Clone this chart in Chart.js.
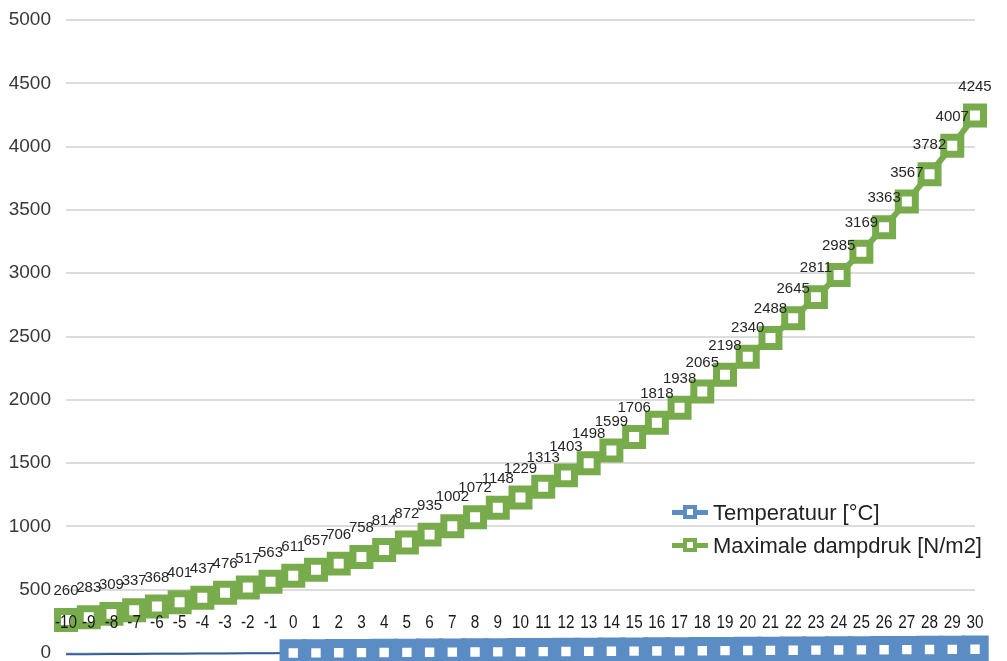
<!DOCTYPE html>
<html>
<head>
<meta charset="utf-8">
<script src="https://cdn.jsdelivr.net/npm/chart.js@4/dist/chart.umd.min.js"></script>
<style>
  html, body { margin: 0; padding: 0; background: #ffffff; }
  #wrap { position: relative; width: 1007px; height: 661px; overflow: hidden; }
  #c { display: block; }
  #legend { position: absolute; left: 672px; top: 496px; font-family: "Liberation Sans", Arial, sans-serif; font-size: 22px; color: #222; }
  .row { height: 33px; display: flex; align-items: center; white-space: nowrap; }
  .sym { position: relative; width: 36px; height: 33px; margin-right: 5px; }
  .sym .ln { position: absolute; left: 0; right: 0; top: 14px; height: 5px; }
  .sym .sq { position: absolute; left: 11px; top: 9px; width: 6px; height: 6px; border: 4px solid; background: #fff; }
</style>
</head>
<body>
<div id="wrap">
  <canvas id="c" width="1007" height="661"></canvas>
  <div id="legend">
    <div class="row"><span class="sym"><span class="ln" style="background:#5b8cc4"></span><span class="sq" style="border-color:#5b8cc4"></span></span><span>Temperatuur [°C]</span></div>
    <div class="row"><span class="sym"><span class="ln" style="background:#78ab4c"></span><span class="sq" style="border-color:#78ab4c"></span></span><span>Maximale dampdruk [N/m2]</span></div>
  </div>
</div>
<script>
const categories = ["-10","-9","-8","-7","-6","-5","-4","-3","-2","-1","0","1","2","3","4","5","6","7","8","9","10","11","12","13","14","15","16","17","18","19","20","21","22","23","24","25","26","27","28","29","30"];
const temperatuur = [-10,-9,-8,-7,-6,-5,-4,-3,-2,-1,0,1,2,3,4,5,6,7,8,9,10,11,12,13,14,15,16,17,18,19,20,21,22,23,24,25,26,27,28,29,30];
const dampdruk = [260,283,309,337,368,401,437,476,517,563,611,657,706,758,814,872,935,1002,1072,1148,1229,1313,1403,1498,1599,1706,1818,1938,2065,2198,2340,2488,2645,2811,2985,3169,3363,3567,3782,4007,4245];
const seriesNames = ["Temperatuur [°C]", "Maximale dampdruk [N/m2]"];
const yTicks = [0,500,1000,1500,2000,2500,3000,3500,4000,4500,5000];

const BLUE = '#5b8cc4';
const BLUE_LINE = '#2f5f98';
const GREEN = '#78ab4c';

const labelPlugin = {
  id: 'valueLabels',
  afterDatasetsDraw(chart) {
    const ctx = chart.ctx;
    const y0 = chart.scales.y.getPixelForValue(0);
    ctx.save();
    ctx.textAlign = 'center';
    ctx.textBaseline = 'middle';
    const m1 = chart.getDatasetMeta(1);
    ctx.font = '15px "Liberation Sans", Arial, sans-serif';
    ctx.fillStyle = '#262626';
    m1.data.forEach((pt, j) => {
      ctx.fillText(String(dampdruk[j]), pt.x, pt.y - 29);
    });
    const m0 = chart.getDatasetMeta(0);
    ctx.font = '18px "Liberation Sans", Arial, sans-serif';
    ctx.fillStyle = '#1a1a1a';
    m0.data.forEach((pt, j) => {
      ctx.save();
      ctx.translate(pt.x, y0 - 30);
      ctx.scale(0.85, 1);
      ctx.fillText(String(temperatuur[j]), 0, 0);
      ctx.restore();
    });
    ctx.restore();
  }
};

new Chart(document.getElementById('c'), {
  type: 'line',
  data: {
    labels: categories,
    datasets: [
      {
        label: seriesNames[0],
        data: temperatuur,
        borderColor: BLUE_LINE,
        borderWidth: 2,
        pointStyle: 'rect',
        pointRadius: (c) => (c.raw < 0 ? 0 : 13),
        pointBorderWidth: 9,
        pointBorderColor: BLUE,
        pointBackgroundColor: '#ffffff',
        tension: 0,
        clip: false
      },
      {
        label: seriesNames[1],
        data: dampdruk,
        borderColor: GREEN,
        borderWidth: 6,
        pointStyle: 'rect',
        pointRadius: 12,
        pointBorderWidth: 7,
        pointBorderColor: GREEN,
        pointBackgroundColor: '#ffffff',
        tension: 0,
        clip: false
      }
    ]
  },
  options: {
    responsive: false,
    animation: false,
    layout: { autoPadding: false, padding: { top: 20, bottom: 8, left: 0, right: 32 } },
    plugins: { legend: { display: false }, tooltip: { enabled: false } },
    scales: {
      x: { display: false, offset: false },
      y: {
        min: 0, max: 5000,
        afterBuildTicks: (s) => { s.ticks = yTicks.map(v => ({ value: v })); },
        afterFit: (s) => { s.width = 66; s.paddingTop = 0; s.paddingBottom = 0; },
        border: { display: false },
        grid: { color: '#dcdcdc', lineWidth: 2, drawTicks: false },
        ticks: { padding: 15, color: '#383838', font: { family: '"Liberation Sans", Arial, sans-serif', size: 19 },
                 callback: (v) => String(v) }
      }
    }
  },
  plugins: [labelPlugin]
});
</script>
</body>
</html>
